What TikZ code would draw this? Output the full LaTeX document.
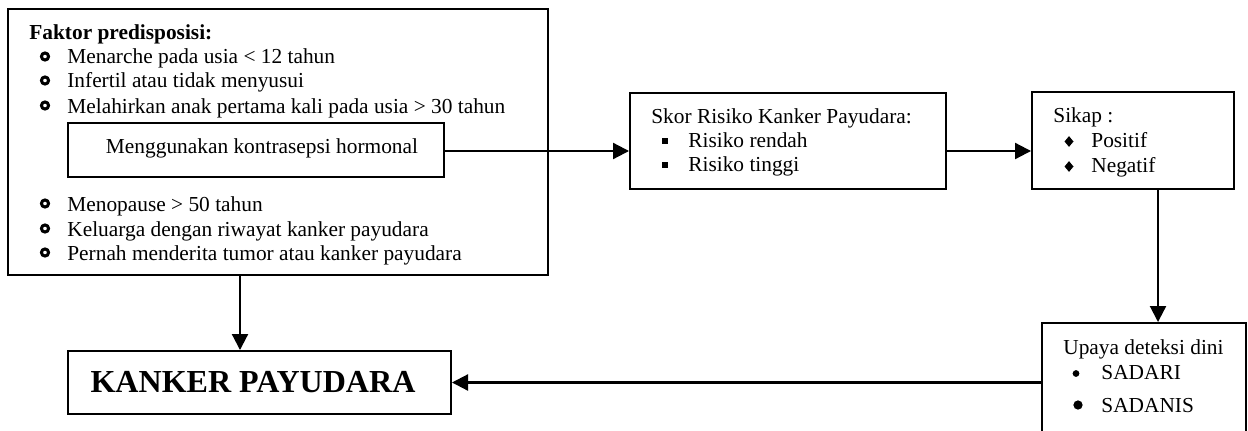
\documentclass[tikz,border=0pt]{standalone}
\usepackage{fontspec}
\setmainfont{Liberation Serif}
\usetikzlibrary{arrows.meta,fit,shapes.geometric}
\begin{document}
\begin{tikzpicture}[x=0.5618pt,y=-0.5618pt,
  box/.style={draw, line width=1.1pt, inner sep=0pt},
  txt/.style={anchor=base west, inner sep=0pt, font=\fontsize{12}{14}\selectfont},
  arr/.style={line width=1.2pt, -{Triangle[length=9pt,width=9pt]}},
  ring/.style={draw, circle, line width=1.7pt, minimum size=4.0pt, inner sep=0pt},
  sq/.style={fill, rectangle, minimum size=2.9pt, inner sep=0pt},
  dia/.style={fill, diamond, minimum width=5.2pt, minimum height=6.2pt, inner sep=0pt},
  dotA/.style={fill, circle, minimum size=3.8pt, inner sep=0pt},
  dotB/.style={fill, circle, minimum size=5.2pt, inner sep=0pt}
]
\useasboundingbox (0,0) rectangle (1248,430);
\clip (0,0) rectangle (1248,430);

% boxes
\node[box, fit={(8,9) (548,275)}] (main) {};
\node[box, fit={(68,123) (444,177)}] (inner) {};
\node[box, fit={(630,93) (946,189)}] (skor) {};
\node[box, fit={(1032,92) (1234,189)}] (sikap) {};
\node[box, fit={(1042,323) (1246,450)}] (upaya) {};
\node[box, fit={(68,351) (451,414)}] (kanker) {};

% main box text
\node[txt, font=\fontsize{12}{14}\selectfont\bfseries] (fk) at (29,40) {Faktor predisposisi:};
\node[ring] (r1) at (45,56.5) {};
\node[txt] (l1) at (67,64) {Menarche pada usia < 12 tahun};
\node[ring] (r2) at (45,80.5) {};
\node[txt] (l2) at (67,88) {Infertil atau tidak menyusui};
\node[ring] (r3) at (45,105.5) {};
\node[txt] (l3) at (67,113) {Melahirkan anak pertama kali pada usia > 30 tahun};
\node[txt, anchor=base] (l4) at (262,153) {Menggunakan kontrasepsi hormonal};
\node[ring] (r5) at (45,203.5) {};
\node[txt] (l5) at (67,211) {Menopause > 50 tahun};
\node[ring] (r6) at (45,228.5) {};
\node[txt] (l6) at (67,236) {Keluarga dengan riwayat kanker payudara};
\node[ring] (r7) at (45,252.5) {};
\node[txt] (l7) at (67,260) {Pernah menderita tumor atau kanker payudara};

% skor text
\node[txt] (s0) at (651,123) {Skor Risiko Kanker Payudara:};
\node[sq] (q1) at (665,141) {};
\node[txt] (s1) at (688,147) {Risiko rendah};
\node[sq] (q2) at (665,165) {};
\node[txt] (s2) at (688,171) {Risiko tinggi};

% sikap text
\node[txt] (k0) at (1053,122) {Sikap :};
\node[dia] (d1) at (1069,141.5) {};
\node[txt] (k1) at (1091,147) {Positif};
\node[dia] (d2) at (1069,166.5) {};
\node[txt] (k2) at (1091,172) {Negatif};

% upaya text
\node[txt] (u0) at (1063,354) {Upaya deteksi dini};
\node[dotA] (b1) at (1076,373.5) {};
\node[txt] (u1) at (1101,379) {SADARI};
\node[dotB] (b2) at (1078,405) {};
\node[txt] (u2) at (1101,412) {SADANIS};

% kanker text
\node[anchor=base, inner sep=0pt, font=\fontsize{18}{20}\selectfont\bfseries] (kt) at (253,392) {KANKER PAYUDARA};

% connectors
\coordinate (ya) at (0,151);
\coordinate (xa) at (1158,0);
\coordinate (xb) at (240,0);
\draw[arr] (inner.east |- ya) -- (skor.west |- ya);
\draw[arr] (skor.east |- ya) -- (sikap.west |- ya);
\draw[arr] (sikap.south -| xa) -- (upaya.north -| xa);
\draw[arr] (upaya.west |- kanker.east) -- (kanker.east);
\draw[arr] (main.south -| xb) -- (kanker.north -| xb);
\end{tikzpicture}
\end{document}
